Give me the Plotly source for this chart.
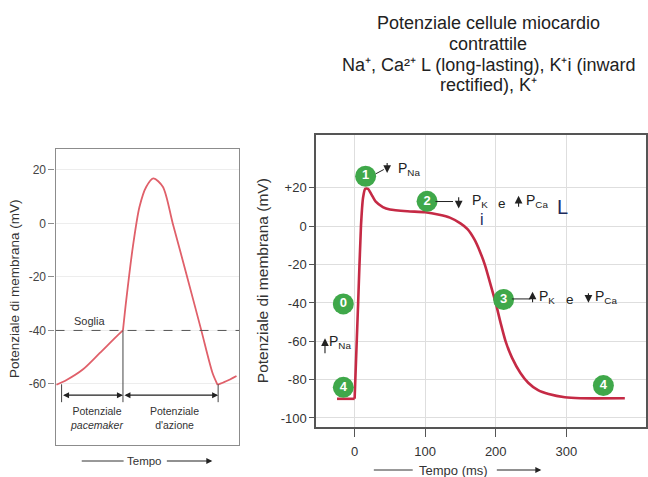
import plotly.graph_objects as go

W, H = 648, 477
FONT = "Arial, Liberation Sans, sans-serif"

# ---------------- data: pacemaker cell (left panel, arbitrary time units) ----------------
pm_t = [0.5, 6.0, 15.0, 24.0, 33.1, 36.7]
pm_v = [-60.3, -58.5, -54.5, -48.5, -42.3, -40.0]
ap_t = [36.7, 38.5, 42.1, 45.7, 49.4, 53.3, 58.4, 63.8, 71.1, 79.2, 85.5, 88.2]
ap_v = [-40.0, -28.6, -8.7, 6.2, 13.7, 16.8, 13.7, 0.0, -18.6, -39.6, -56.0, -60.3]
rec_t = [88.2, 92.8, 98.5]
rec_v = [-60.3, -59.0, -57.0]
left_ticks = [20, 0, -20, -40, -60]
threshold = -40

# ---------------- data: contractile myocyte (right panel, ms) ----------------
rest_ms = [-25, 0]
rest_mv = [-90, -90]
cm_ms = [0, 5, 9, 12, 15, 19, 24, 30, 40, 50, 75, 100, 120, 135, 150, 160, 170,
         178, 185, 192, 200, 207, 214, 223, 235, 246, 260, 275, 298, 320, 383]
cm_mv = [-90, -40, 0, 15, 19.5, 19.5, 16.5, 12.8, 10, 8.7, 7.8, 7.3, 6, 4.5, 1.5, -1.5, -7,
         -13.5, -20.5, -29.5, -40, -50.5, -60, -68.5, -76.5, -81.6, -85.5, -87.5, -89.2,
         -89.7, -89.7]
right_yticks = [20, 0, -20, -40, -60, -80, -100]
right_ytext = ["+20", "0", "-20", "-40", "-60", "-80", "-100"]
right_xticks = [0, 100, 200, 300]

# phase badges
phase_lbl = ["0", "1", "2", "3", "4", "4"]
phase_ms = [-16, 15.6, 102.7, 211.2, -16, 352.6]
phase_mv = [-40.5, 26.1, 13.0, -38.2, -84.0, -83.1]


def px(x):
    return x / W


def py(y):
    return 1 - y / H


fig = go.Figure()

LEFT_RED = "#E0606A"
RIGHT_RED = "#C52A45"

for tt, vv in ((pm_t, pm_v), (ap_t, ap_v), (rec_t, rec_v)):
    fig.add_trace(go.Scatter(x=tt, y=vv, mode="lines", xaxis="x", yaxis="y",
                             line=dict(color=LEFT_RED, width=1.8, shape="spline", smoothing=0.8),
                             hoverinfo="skip", showlegend=False))

fig.add_trace(go.Scatter(x=rest_ms, y=rest_mv, mode="lines", xaxis="x2", yaxis="y2",
                         line=dict(color=RIGHT_RED, width=2.6), showlegend=False))
fig.add_trace(go.Scatter(x=cm_ms, y=cm_mv, mode="lines", xaxis="x2", yaxis="y2",
                         line=dict(color=RIGHT_RED, width=2.6, shape="spline", smoothing=0.6),
                         showlegend=False))

fig.add_trace(go.Scatter(x=phase_ms, y=phase_mv, mode="markers+text", text=phase_lbl,
                         xaxis="x2", yaxis="y2", textposition="middle center",
                         marker=dict(size=21, color="#3FA84A", line=dict(width=0)),
                         textfont=dict(color="white", size=13, family=FONT, weight="bold"),
                         showlegend=False, cliponaxis=False))

shapes = []
annotations = []

# threshold
shapes.append(dict(type="line", xref="x", yref="y", x0=0, x1=100, y0=threshold, y1=threshold,
                   line=dict(color="#555", width=1, dash="dash")))
# bracket verticals under the pacemaker trace
for x0, y0 in ((3.3, -60.1), (36.7, threshold), (88.5, -60.1)):
    shapes.append(dict(type="line", xref="x", yref="y", x0=x0, x1=x0, y0=y0, y1=-66.8,
                       line=dict(color="#444", width=1)))


def arrow(xh, yh, xt, yt, xr, yr, side="end", size=0.9, width=1.2, head=2):
    a = dict(x=xh, y=yh, xref=xr, yref=yr,
             text="", showarrow=True, arrowhead=head, startarrowhead=head,
             arrowsize=size, startarrowsize=size, arrowwidth=width,
             arrowcolor="#222", arrowside=side, standoff=0, startstandoff=0)
    if xr == "paper":
        # tail given in paper units -> pixel offsets
        a.update(axref="pixel", ayref="pixel", ax=(xt - xh) * W, ay=-(yt - yh) * H)
    else:
        a.update(axref=xr, ayref=yr, ax=xt, ay=yt)
    annotations.append(a)


def label(x, y, text, xr, yr, size=13, color="#222", xanchor="center", **kw):
    annotations.append(dict(x=x, y=y, xref=xr, yref=yr, text=text, showarrow=False,
                            xanchor=xanchor, yanchor="middle",
                            font=dict(family=FONT, size=size, color=color), **kw))


# double arrows spanning the two phases
arrow(36.7, -64.2, 3.3, -64.2, "x", "y", side="end+start", size=1.0)
arrow(88.5, -64.2, 36.7, -64.2, "x", "y", side="end+start", size=1.0)
label(18.6, -36.3, "Soglia", "x", "y", size=11, color="#333")
label(22.2, -72.6, "Potenziale<br><i>pacemaker</i>", "x", "y", size=10.5, color="#333")
label(64.7, -72.6, "Potenziale<br>d'azione", "x", "y", size=10.5, color="#333")

# left panel axis captions
label(px(14), py(288), "Potenziale di membrana (mV)", "paper", "paper", size=13.5,
      color="#333", textangle=-90)
label(px(145), py(461), "Tempo", "paper", "paper", size=11.5, color="#333")
shapes.append(dict(type="line", xref="paper", yref="paper", x0=px(82), x1=px(124),
                   y0=py(461), y1=py(461), line=dict(color="#333", width=1)))
arrow(px(213), py(461), px(166), py(461), "paper", "paper", size=1.0)

# right panel axis captions
label(px(263), py(281), "Potenziale di membrana (mV)", "paper", "paper", size=15.5,
      color="#333", textangle=-90)
label(px(455), py(470), "Tempo (ms)", "paper", "paper", size=13, color="#333")
shapes.append(dict(type="line", xref="paper", yref="paper", x0=px(375), x1=px(414),
                   y0=py(470), y1=py(470), line=dict(color="#333", width=1)))
arrow(px(543), py(470), px(497), py(470), "paper", "paper", size=1.0)

# ion permeability notes on the right panel
X2, Y2 = "x2", "y2"
AS, AW = 1.4, 1.1
# phase 1
shapes.append(dict(type="line", xref=X2, yref=Y2, x0=29.7, y0=27.3, x1=41.4, y1=29.6,
                   line=dict(color="#222", width=1)))
arrow(46.1, 27.8, 46.1, 33.8, X2, Y2, size=AS, width=AW)
label(58, 29.9, "P<sub>Na</sub>", X2, Y2, size=14, xanchor="left")
# phase 2
shapes.append(dict(type="line", xref=X2, yref=Y2, x0=114.6, y0=12.9, x1=139.5, y1=12.9,
                   line=dict(color="#222", width=1)))
arrow(147.5, 9.3, 147.5, 15.9, X2, Y2, size=AS, width=AW)
label(163.1, 13.0, "P<sub>K</sub>", X2, Y2, size=14, xanchor="left")
label(208.8, 12.0, "e", X2, Y2, size=13.5)
arrow(232.4, 15.9, 232.4, 9.4, X2, Y2, size=AS, width=AW)
label(239.5, 13.0, "P<sub>Ca</sub>", X2, Y2, size=14, xanchor="left")
label(284.3, 10.0, "L", X2, Y2, size=20, color="#1C2A5C", xanchor="left")
label(180.5, 3.4, "i", X2, Y2, size=16, color="#1C2A5C")
# phase 3
shapes.append(dict(type="line", xref=X2, yref=Y2, x0=222.9, y0=-37.9, x1=248.9, y1=-37.9,
                   line=dict(color="#222", width=1)))
arrow(252.2, -34.1, 252.2, -40.4, X2, Y2, size=AS, width=AW)
label(258.3, -37.0, "P<sub>K</sub>", X2, Y2, size=14, xanchor="left")
label(305.5, -38.0, "e", X2, Y2, size=13.5)
arrow(331.4, -39.9, 331.4, -34.1, X2, Y2, size=AS, width=AW)
label(338.5, -37.0, "P<sub>Ca</sub>", X2, Y2, size=14, xanchor="left")
# phase 0
arrow(-42, -58.4, -42, -67.0, X2, Y2, size=AS, width=AW)
label(-38.8, -60.5, "P<sub>Na</sub>", X2, Y2, size=14, xanchor="left")

# heading
heading = ["Potenziale cellule miocardio",
           "contrattile",
           "Na\u207a, Ca\u00b2\u207a L (long-lasting), K\u207ai (inward",
           "rectified), K\u207a"]
for i, line in enumerate(heading):
    label(px(490), py(23 + 20.8 * i), line, "paper", "paper", size=18, color="#222")

fig.update_layout(
    width=W, height=H,
    margin=dict(l=0, r=0, t=0, b=0),
    paper_bgcolor="white", plot_bgcolor="white",
    showlegend=False,
    font=dict(family=FONT, color="#333"),
    shapes=shapes, annotations=annotations,
    xaxis=dict(domain=[px(55.7), px(240)], range=[0, 100], showticklabels=False,
               ticks="", showgrid=False, zeroline=False, showline=True, mirror=True,
               linecolor="#8C8C8C", linewidth=1.2, fixedrange=True),
    yaxis=dict(domain=[py(445), py(149)], range=[-82.8, 27.8], tickvals=left_ticks,
               ticktext=[str(v) for v in left_ticks], ticks="outside", ticklen=6,
               tickcolor="#8C8C8C", tickfont=dict(size=12, color="#444"),
               showgrid=True, gridcolor="#EDEDED", zeroline=False, showline=True,
               mirror=True, linecolor="#8C8C8C", linewidth=1.2, fixedrange=True),
    xaxis2=dict(domain=[px(317), 1.0], range=[-54.7, 413], anchor="y2",
                tickvals=right_xticks, ticks="outside", ticklen=8, tickcolor="#555",
                tickfont=dict(size=13, color="#333"), ticklabelstandoff=4,
                showgrid=True, gridcolor="#DEDEDE", zeroline=False, showline=True,
                mirror=True, linecolor="#555", linewidth=1.5, fixedrange=True),
    yaxis2=dict(domain=[py(427), py(135)], range=[-104.7, 47.6], anchor="x2",
                tickvals=right_yticks, ticktext=right_ytext, ticks="outside", ticklen=5,
                tickcolor="#555", tickfont=dict(size=13, color="#333"),
                showgrid=True, gridcolor="#DEDEDE", zeroline=False, showline=True,
                mirror=True, linecolor="#555", linewidth=1.5, fixedrange=True),
)

fig.write_html("out.html")
